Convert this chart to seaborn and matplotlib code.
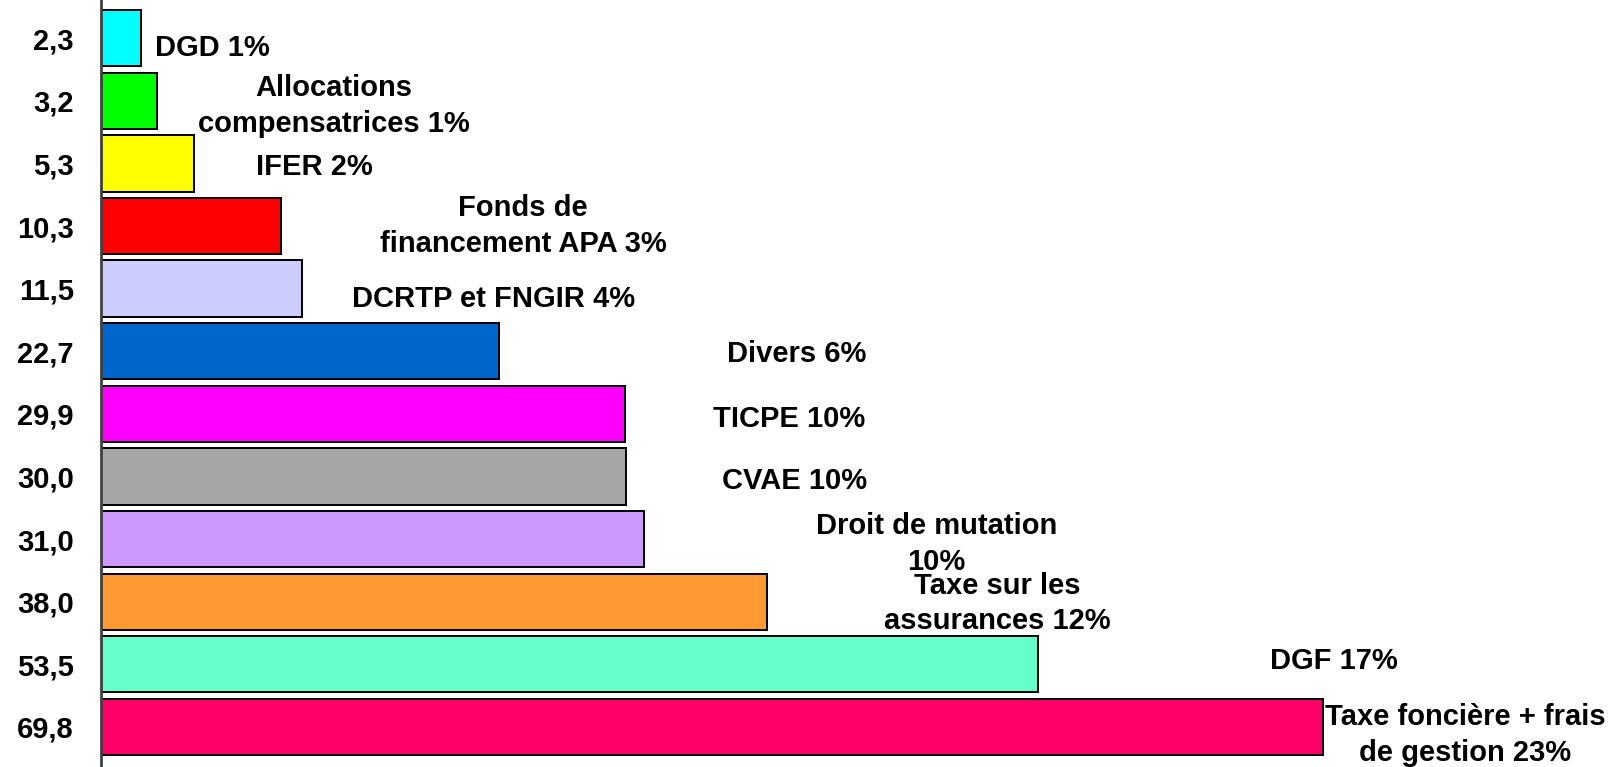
import pandas as pd
import matplotlib
matplotlib.use('Agg')
import matplotlib.pyplot as plt
import seaborn as sns

# ---------------------------------------------------------
# DATA
# ---------------------------------------------------------
values = [2.3, 3.2, 5.3, 10.3, 11.5, 22.7, 29.9, 30.0, 31.0, 38.0, 53.5, 69.8]
labels = ['DGD 1%', 'Allocations\ncompensatrices 1%', 'IFER 2%',
          'Fonds de\nfinancement APA 3%', 'DCRTP et FNGIR 4%', 'Divers 6%',
          'TICPE 10%', 'CVAE 10%', 'Droit de mutation\n10%',
          'Taxe sur les\nassurances 12%', 'DGF 17%',
          'Taxe foncière + frais\nde gestion 23%']
colors = ['#00FFFF', '#00FF00', '#FFFF00', '#FF0000', '#CCCCFF', '#0066CC',
          '#FF00FF', '#A6A6A6', '#CC99FF', '#FF9933', '#66FFCC', '#FF0066']

df = pd.DataFrame({
    'valeur': values,
    'tick': [f'{v:.1f}'.replace('.', ',') for v in values],
    'label': labels,
})

# ---------------------------------------------------------
# PLOT
# ---------------------------------------------------------
sns.set_style('white')
plt.rcParams['font.family'] = ['Liberation Sans', 'DejaVu Sans']

fig = plt.figure(figsize=(16.23, 7.67), dpi=100)
ax = fig.add_axes([0.0622, 0.0, 0.9378, 1.0])

sns.barplot(data=df, x='valeur', y='tick', hue='tick', palette=colors,
            saturation=1, orient='h', width=0.9, edgecolor='black',
            linewidth=1.4, legend=False, ax=ax)

# data labels (moved by hand in the original, so each has its own offset)
label_dx = [0.78, 10.1, 6.9, 13.8, 10.9, 17.0, 9.4, 9.6, 16.7, 13.2, 16.9, 8.1]
label_dy = [0.15, 0.08, 0.05, 0.0, 0.17, 0.05, 0.08, 0.08, 0.08, 0.03, -0.05, 0.13]
for i, row in df.iterrows():
    ha = 'left' if i == 0 else 'center'
    ax.text(row['valeur'] + label_dx[i], i + label_dy[i], row['label'],
            ha=ha, va='center', fontsize=21, fontweight='bold',
            color='black', linespacing=1.35, multialignment='center')

ax.set_xlim(0, 86.9)
ax.set_ylim(11.64, -0.61)
ax.set_xlabel('')
ax.set_ylabel('')
ax.set_xticks([])
ax.tick_params(axis='y', length=0, pad=19.5, labelcolor='black')
for t in ax.get_yticklabels():
    t.set_fontsize(21)
    t.set_fontweight('bold')

for side in ['top', 'right', 'bottom']:
    ax.spines[side].set_visible(False)
ax.spines['left'].set_color('#404040')
ax.spines['left'].set_linewidth(2)

fig.savefig('out.png', dpi=100)
